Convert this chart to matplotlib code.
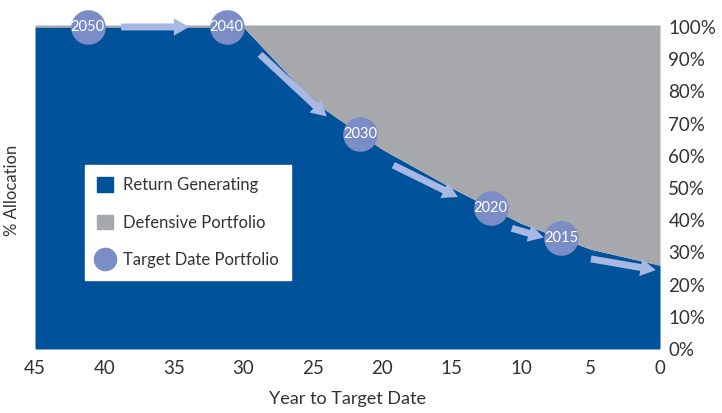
import numpy as np
import matplotlib
matplotlib.use("Agg")
import matplotlib.pyplot as plt
from matplotlib.patches import Patch
from matplotlib.lines import Line2D

# data
years = [45, 40, 35, 30, 25, 20, 15, 10, 5, 0]
return_pct = [100, 100, 100, 100, 77, 62, 50, 39, 31, 26]
vintage_labels = ["2050", "2040", "2030", "2020", "2015"]
vintage_years = [41.2, 31.2, 21.6, 12.2, 7.1]
x_ticks = [45, 40, 35, 30, 25, 20, 15, 10, 5, 0]
y_ticks = [0, 10, 20, 30, 40, 50, 60, 70, 80, 90, 100]

BLUE = "#00529b"
GRAY = "#a7a8ac"
DOT = "#7b8dc6"
ARROW = "#a9b8e2"
TEXT = "#333333"

plt.rcParams["font.family"] = ["Lato", "DejaVu Sans"]

fig = plt.figure(figsize=(7.22, 4.13), dpi=100)
ax = fig.add_axes([35 / 722, 64 / 413, 625 / 722, 324 / 413])

ax.fill_between(years, 0, return_pct, color=BLUE, lw=0)
ax.fill_between(years, return_pct, 100.6, color=GRAY, lw=0)

# circle positions sit on the glide path
vintage_pct = np.interp(vintage_years, years[::-1], return_pct[::-1])

# arrows between circles, slightly inside the blue area
arrow_ends = vintage_years + [0]
for i in range(len(vintage_years)):
    y0, y1 = arrow_ends[i], arrow_ends[i + 1]
    span = y0 - y1
    a = y0 - min(2.4, span * 0.3)
    b = y1 + (0.3 if i == len(vintage_years) - 1 else min(2.5, span * 0.25))
    if i == 0:
        b = y1 + 2.7
    pa = np.interp(a, years[::-1], return_pct[::-1]) - (0 if i == 0 else 3.0)
    pb = np.interp(b, years[::-1], return_pct[::-1]) - (0 if i == 0 else 1.8)
    ax.annotate("", xy=(b, pb), xytext=(a, pa),
                arrowprops=dict(arrowstyle="simple,head_width=1.25,head_length=1.1,tail_width=0.5",
                                color=ARROW, lw=0, shrinkA=0, shrinkB=0),
                zorder=3)

ax.scatter(vintage_years, vintage_pct, s=620, color=DOT, zorder=4, clip_on=False, lw=0)
for lab, yr, pc in zip(vintage_labels, vintage_years, vintage_pct):
    ax.text(yr, pc, lab, color="white", fontsize=10.5, ha="center", va="center", zorder=5)

ax.set_xlim(45, 0)
ax.set_ylim(0, 100.6)
ax.set_xticks(x_ticks)
ax.set_xticklabels([str(v) for v in x_ticks])
ax.yaxis.tick_right()
ax.set_yticks(y_ticks)
ax.set_yticklabels([f"{v}%" for v in y_ticks])
ax.tick_params(length=0, labelsize=13.5, colors=TEXT, pad=6)
ax.tick_params(axis="x", pad=8)
for s in ax.spines.values():
    s.set_visible(False)

ax.set_xlabel("Year to Target Date", fontsize=13, color=TEXT, labelpad=10)
fig.text(12 / 722, 1 - 190 / 413, "% Allocation", rotation=90, fontsize=12,
         color=TEXT, ha="center", va="center")

handles = [Patch(color=BLUE), Patch(color=GRAY),
           Line2D([], [], marker="o", ls="", ms=16, color=DOT)]
leg = ax.legend(handles, ["Return Generating", "Defensive Portfolio", "Target Date Portfolio"],
                loc="upper left", bbox_to_anchor=(50 / 625, 184 / 324), frameon=True, fancybox=False,
                framealpha=1, edgecolor="white", fontsize=12, handlelength=1.0,
                handleheight=1.0, labelspacing=1.3, borderpad=0.7, handletextpad=0.6,
                borderaxespad=0)
for t in leg.get_texts():
    t.set_color(TEXT)

fig.savefig("out.png", dpi=100)
